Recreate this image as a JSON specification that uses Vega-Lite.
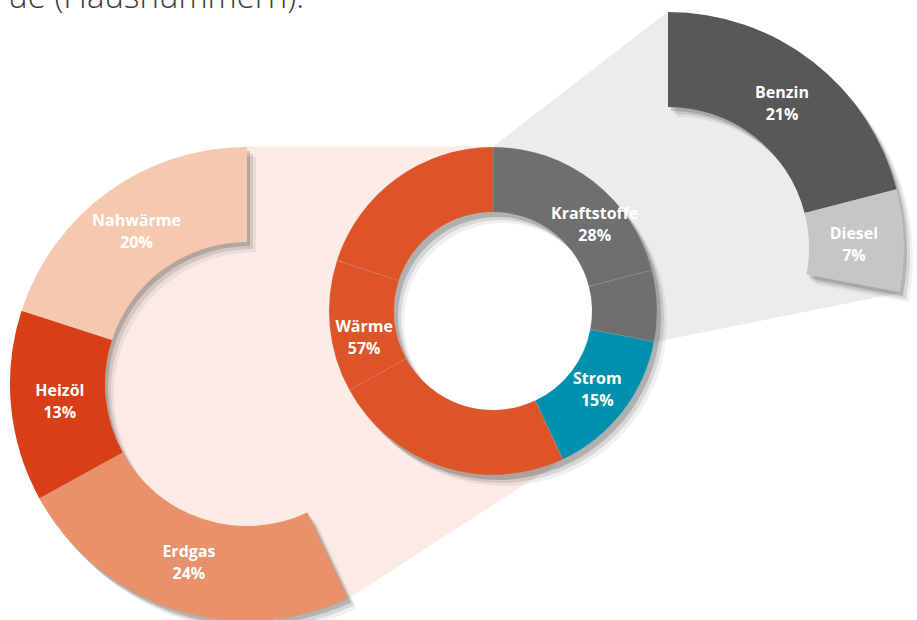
{
  "$schema": "https://vega.github.io/schema/vega-lite/v6.json",
  "width": 917,
  "height": 620,
  "autosize": "none",
  "padding": 0,
  "background": "#ffffff",
  "config": {"view": {"stroke": null}},
  "datasets": {
    "parts": [
      {"name": "Benzin", "group": "Kraftstoffe", "share": 0.21, "order": 1},
      {"name": "Diesel", "group": "Kraftstoffe", "share": 0.07, "order": 2},
      {"name": "Strom", "group": "Strom", "share": 0.15, "order": 3},
      {"name": "Erdgas", "group": "Wärme", "share": 0.24, "order": 4},
      {"name": "Heizöl", "group": "Wärme", "share": 0.13, "order": 5},
      {"name": "Nahwärme", "group": "Wärme", "share": 0.20, "order": 6}
    ]
  },
  "data": {"name": "parts"},
  "layer": [
    {
      "transform": [
        {"stack": "share", "groupby": [], "sort": [{"field": "order", "order": "ascending"}], "as": ["v0", "v1"]},
        {"filter": "datum.group === 'Wärme'"},
        {"aggregate": [{"op": "min", "field": "v0", "as": "a0"}, {"op": "max", "field": "v1", "as": "a1"}], "groupby": ["group"]},
        {"calculate": "[1,2,3,4,5,6]", "as": "k"},
        {"flatten": ["k"]},
        {"calculate": "datum.k >= 2 && datum.k <= 4", "as": "onMain"},
        {"calculate": "datum.onMain ? 493 : 247", "as": "cx"},
        {"calculate": "datum.onMain ? 311 : 384", "as": "cy"},
        {"calculate": "(datum.k === 3 || datum.k === 6) ? 0 : (datum.onMain ? 164 : 237)", "as": "r"},
        {"calculate": "2 * PI * (datum.k <= 2 ? datum.a1 : datum.a0)", "as": "ang"},
        {"calculate": "datum.cx + datum.r * sin(datum.ang)", "as": "px"},
        {"calculate": "datum.cy - datum.r * cos(datum.ang)", "as": "py"}
      ],
      "mark": {"type": "line", "interpolate": "linear-closed", "fill": "#FBEBE4", "stroke": "#FBEBE4", "strokeWidth": 1},
      "encoding": {
        "x": {"field": "px", "type": "quantitative", "scale": {"domain": [0, 917], "nice": false, "zero": false}, "axis": null},
        "y": {"field": "py", "type": "quantitative", "scale": {"domain": [0, 620], "nice": false, "zero": false, "reverse": true}, "axis": null},
        "order": {"field": "k", "type": "quantitative"}
      }
    },
    {
      "transform": [
        {"stack": "share", "groupby": [], "sort": [{"field": "order", "order": "ascending"}], "as": ["v0", "v1"]},
        {"filter": "datum.group === 'Kraftstoffe'"},
        {"aggregate": [{"op": "min", "field": "v0", "as": "a0"}, {"op": "max", "field": "v1", "as": "a1"}], "groupby": ["group"]},
        {"calculate": "[1,2,3,4,5,6]", "as": "k"},
        {"flatten": ["k"]},
        {"calculate": "datum.k >= 2 && datum.k <= 4", "as": "onMain"},
        {"calculate": "datum.onMain ? 493 : 668", "as": "cx"},
        {"calculate": "datum.onMain ? 311 : 248", "as": "cy"},
        {"calculate": "(datum.k === 3 || datum.k === 6) ? 0 : (datum.onMain ? 164 : 236)", "as": "r"},
        {"calculate": "2 * PI * (datum.k <= 2 ? datum.a1 : datum.a0)", "as": "ang"},
        {"calculate": "datum.cx + datum.r * sin(datum.ang)", "as": "px"},
        {"calculate": "datum.cy - datum.r * cos(datum.ang)", "as": "py"}
      ],
      "mark": {"type": "line", "interpolate": "linear-closed", "fill": "#ECECEC", "stroke": "#ECECEC", "strokeWidth": 1},
      "encoding": {
        "x": {"field": "px", "type": "quantitative", "scale": {"domain": [0, 917], "nice": false, "zero": false}, "axis": null},
        "y": {"field": "py", "type": "quantitative", "scale": {"domain": [0, 620], "nice": false, "zero": false, "reverse": true}, "axis": null},
        "order": {"field": "k", "type": "quantitative"}
      }
    },
    {
      "encoding": {
        "x": {"datum": 247, "type": "quantitative", "scale": {"domain": [0, 917], "nice": false, "zero": false}, "axis": null},
        "y": {"datum": 384, "type": "quantitative", "scale": {"domain": [0, 620], "nice": false, "zero": false, "reverse": true}, "axis": null}
      },
      "layer": [
        {
          "transform": [
            {"stack": "share", "groupby": [], "sort": [{"field": "order", "order": "ascending"}], "as": ["v0", "v1"]},
            {"filter": "datum.group === 'Wärme'"},
            {"aggregate": [{"op": "min", "field": "v0", "as": "a0"}, {"op": "max", "field": "v1", "as": "a1"}], "groupby": ["group"]}
          ],
          "layer": [
            {"mark": {"type": "arc", "innerRadius": 0, "outerRadius": 237, "color": "#FBEBE4"}},
            {"mark": {"type": "arc", "innerRadius": 142, "outerRadius": 237, "color": "#000000", "opacity": 0.06, "xOffset": 9, "yOffset": 10}},
            {"mark": {"type": "arc", "innerRadius": 142, "outerRadius": 237, "color": "#000000", "opacity": 0.1, "xOffset": 6, "yOffset": 7}},
            {"mark": {"type": "arc", "innerRadius": 142, "outerRadius": 237, "color": "#000000", "opacity": 0.16, "xOffset": 3, "yOffset": 4}}
          ],
          "encoding": {
            "theta": {"field": "a0", "type": "quantitative", "stack": null, "scale": {"domain": [0, 1]}},
            "theta2": {"field": "a1"}
          }
        },
        {
          "transform": [
            {"stack": "share", "groupby": [], "sort": [{"field": "order", "order": "ascending"}], "as": ["v0", "v1"]},
            {"filter": "datum.group === 'Wärme'"}
          ],
          "mark": {"type": "arc", "innerRadius": 142, "outerRadius": 237},
          "encoding": {
            "theta": {"field": "v0", "type": "quantitative", "stack": null, "scale": {"domain": [0, 1]}},
            "theta2": {"field": "v1"},
            "color": {"field": "name", "type": "nominal", "scale": {"domain": ["Benzin", "Diesel", "Strom", "Erdgas", "Heizöl", "Nahwärme"], "range": ["#585857", "#C6C6C6", "#0091AE", "#E8916A", "#D83F17", "#F4C9B0"]}, "legend": null}
          }
        },
        {
          "mark": {"type": "text", "radius": 188, "font": "Open Sans", "fontWeight": "bold", "fontSize": 16, "color": "#ffffff", "baseline": "middle", "dy": -11},
          "encoding": {
            "theta": {"field": "share", "type": "quantitative", "stack": true, "scale": {"domain": [0, 1]}},
            "order": {"field": "order", "type": "quantitative"},
            "detail": {"field": "name"},
            "text": {"field": "name"},
            "opacity": {"condition": {"test": "datum.group === 'Wärme'", "value": 1}, "value": 0}
          }
        },
        {
          "mark": {"type": "text", "radius": 188, "font": "Open Sans", "fontWeight": "bold", "fontSize": 16, "color": "#ffffff", "baseline": "middle", "dy": 11},
          "encoding": {
            "theta": {"field": "share", "type": "quantitative", "stack": true, "scale": {"domain": [0, 1]}},
            "order": {"field": "order", "type": "quantitative"},
            "detail": {"field": "name"},
            "text": {"field": "share", "format": ".0%"},
            "opacity": {"condition": {"test": "datum.group === 'Wärme'", "value": 1}, "value": 0}
          }
        }
      ]
    },
    {
      "encoding": {
        "x": {"datum": 668, "type": "quantitative", "scale": {"domain": [0, 917], "nice": false, "zero": false}, "axis": null},
        "y": {"datum": 248, "type": "quantitative", "scale": {"domain": [0, 620], "nice": false, "zero": false, "reverse": true}, "axis": null}
      },
      "layer": [
        {
          "transform": [
            {"stack": "share", "groupby": [], "sort": [{"field": "order", "order": "ascending"}], "as": ["v0", "v1"]},
            {"filter": "datum.group === 'Kraftstoffe'"},
            {"aggregate": [{"op": "min", "field": "v0", "as": "a0"}, {"op": "max", "field": "v1", "as": "a1"}], "groupby": ["group"]}
          ],
          "layer": [
            {"mark": {"type": "arc", "innerRadius": 0, "outerRadius": 236, "color": "#ECECEC"}},
            {"mark": {"type": "arc", "innerRadius": 141, "outerRadius": 236, "color": "#000000", "opacity": 0.06, "xOffset": 9, "yOffset": 10}},
            {"mark": {"type": "arc", "innerRadius": 141, "outerRadius": 236, "color": "#000000", "opacity": 0.1, "xOffset": 6, "yOffset": 7}},
            {"mark": {"type": "arc", "innerRadius": 141, "outerRadius": 236, "color": "#000000", "opacity": 0.16, "xOffset": 3, "yOffset": 4}}
          ],
          "encoding": {
            "theta": {"field": "a0", "type": "quantitative", "stack": null, "scale": {"domain": [0, 1]}},
            "theta2": {"field": "a1"}
          }
        },
        {
          "transform": [
            {"stack": "share", "groupby": [], "sort": [{"field": "order", "order": "ascending"}], "as": ["v0", "v1"]},
            {"filter": "datum.group === 'Kraftstoffe'"}
          ],
          "mark": {"type": "arc", "innerRadius": 141, "outerRadius": 236},
          "encoding": {
            "theta": {"field": "v0", "type": "quantitative", "stack": null, "scale": {"domain": [0, 1]}},
            "theta2": {"field": "v1"},
            "color": {"field": "name", "type": "nominal", "scale": {"domain": ["Benzin", "Diesel", "Strom", "Erdgas", "Heizöl", "Nahwärme"], "range": ["#585857", "#C6C6C6", "#0091AE", "#E8916A", "#D83F17", "#F4C9B0"]}, "legend": null}
          }
        },
        {
          "mark": {"type": "text", "radius": 186, "font": "Open Sans", "fontWeight": "bold", "fontSize": 16, "color": "#ffffff", "baseline": "middle", "dy": -8},
          "encoding": {
            "theta": {"field": "share", "type": "quantitative", "stack": true, "scale": {"domain": [0, 1]}},
            "order": {"field": "order", "type": "quantitative"},
            "detail": {"field": "name"},
            "text": {"field": "name"},
            "opacity": {"condition": {"test": "datum.group === 'Kraftstoffe'", "value": 1}, "value": 0}
          }
        },
        {
          "mark": {"type": "text", "radius": 186, "font": "Open Sans", "fontWeight": "bold", "fontSize": 16, "color": "#ffffff", "baseline": "middle", "dy": 14},
          "encoding": {
            "theta": {"field": "share", "type": "quantitative", "stack": true, "scale": {"domain": [0, 1]}},
            "order": {"field": "order", "type": "quantitative"},
            "detail": {"field": "name"},
            "text": {"field": "share", "format": ".0%"},
            "opacity": {"condition": {"test": "datum.group === 'Kraftstoffe'", "value": 1}, "value": 0}
          }
        }
      ]
    },
    {
      "encoding": {
        "x": {"datum": 493, "type": "quantitative", "scale": {"domain": [0, 917], "nice": false, "zero": false}, "axis": null},
        "y": {"datum": 311, "type": "quantitative", "scale": {"domain": [0, 620], "nice": false, "zero": false, "reverse": true}, "axis": null}
      },
      "layer": [
        {
          "transform": [
            {"aggregate": [{"op": "sum", "field": "share", "as": "total"}]}
          ],
          "layer": [
            {"mark": {"type": "arc", "innerRadius": 0, "outerRadius": 99, "color": "#ffffff"}},
            {"mark": {"type": "arc", "innerRadius": 99, "outerRadius": 164, "color": "#000000", "opacity": 0.06, "xOffset": 10, "yOffset": 11}},
            {"mark": {"type": "arc", "innerRadius": 99, "outerRadius": 164, "color": "#000000", "opacity": 0.1, "xOffset": 7, "yOffset": 8}},
            {"mark": {"type": "arc", "innerRadius": 99, "outerRadius": 164, "color": "#000000", "opacity": 0.18, "xOffset": 4, "yOffset": 5}}
          ],
          "encoding": {
            "theta": {"field": "total", "type": "quantitative", "scale": {"domain": [0, 1]}}
          }
        },
        {
          "transform": [
            {"stack": "share", "groupby": [], "sort": [{"field": "order", "order": "ascending"}], "as": ["v0", "v1"]}
          ],
          "mark": {"type": "arc", "innerRadius": 99, "outerRadius": 164, "stroke": "#ffffff", "strokeOpacity": 0.12, "strokeWidth": 0.8},
          "encoding": {
            "theta": {"field": "v0", "type": "quantitative", "stack": null, "scale": {"domain": [0, 1]}},
            "theta2": {"field": "v1"},
            "fill": {"field": "group", "type": "nominal", "scale": {"domain": ["Kraftstoffe", "Strom", "Wärme"], "range": ["#6F6F6F", "#0091AE", "#DD5429"]}, "legend": null}
          }
        },
        {
          "transform": [
            {"aggregate": [{"op": "sum", "field": "share", "as": "total"}, {"op": "min", "field": "order", "as": "ord"}], "groupby": ["group"]}
          ],
          "layer": [
            {
              "mark": {"type": "text", "radius": 132, "font": "Open Sans", "fontWeight": "bold", "fontSize": 16, "color": "#ffffff", "baseline": "middle", "dy": -13},
              "encoding": {"text": {"field": "group"}}
            },
            {
              "mark": {"type": "text", "radius": 132, "font": "Open Sans", "fontWeight": "bold", "fontSize": 16, "color": "#ffffff", "baseline": "middle", "dy": 9},
              "encoding": {"text": {"field": "total", "format": ".0%"}}
            }
          ],
          "encoding": {
            "theta": {"field": "total", "type": "quantitative", "stack": true, "scale": {"domain": [0, 1]}},
            "order": {"field": "ord", "type": "quantitative"},
            "detail": {"field": "group"}
          }
        }
      ]
    },
    {
      "data": {"values": [{"t": "ue (Hausnummern)."}]},
      "mark": {"type": "text", "align": "right", "baseline": "alphabetic", "font": "Open Sans", "fontSize": 33, "fontWeight": 300, "color": "#3C3C3C"},
      "encoding": {
        "x": {"datum": 304, "type": "quantitative", "scale": {"domain": [0, 917], "nice": false, "zero": false}, "axis": null},
        "y": {"datum": 8, "type": "quantitative", "scale": {"domain": [0, 620], "nice": false, "zero": false, "reverse": true}, "axis": null},
        "text": {"field": "t"}
      }
    }
  ]
}
